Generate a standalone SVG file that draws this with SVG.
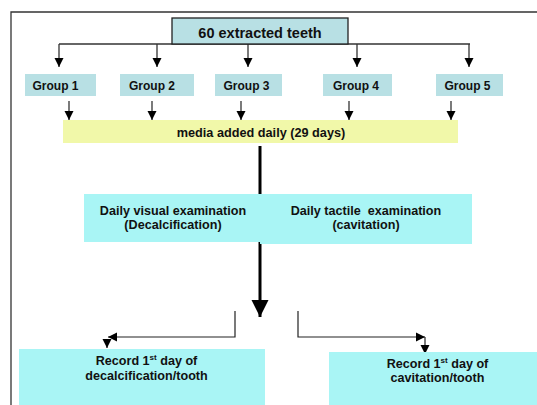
<svg xmlns="http://www.w3.org/2000/svg" width="537" height="405" viewBox="0 0 537 405">
<style>
text{font-family:"Liberation Sans",Arial,sans-serif;font-weight:bold;fill:#111;text-anchor:middle}
.grp{fill:#b8e0e4}
.exam{fill:#a9f5f5}
.ln{stroke:#333;stroke-width:1.3;fill:none}
.thin{stroke:#222;stroke-width:1.2;fill:none}
.sup{font-size:8px}
</style>
<defs>
<marker id="ah" markerUnits="userSpaceOnUse" markerWidth="10" markerHeight="10" refX="9" refY="5" orient="auto"><path d="M0,0.5 L9,5 L0,9.5 Z" fill="#000"/></marker>
<marker id="big" markerUnits="userSpaceOnUse" markerWidth="18" markerHeight="18" refX="17" refY="9" orient="auto"><path d="M0,0.5 L17,9 L0,17.5 Z" fill="#000"/></marker>
</defs>
<rect width="537" height="405" fill="#fff"/>
<path d="M11,405 V12 H537" stroke="#333" stroke-width="1.3" fill="none"/>

<g id="connectors">
<path class="ln" d="M59,44 H470"/>
<path class="ln" d="M59,44 V67" marker-end="url(#ah)"/>
<path class="ln" d="M157,44 V67" marker-end="url(#ah)"/>
<path class="ln" d="M248,44 V67" marker-end="url(#ah)"/>
<path class="ln" d="M357,44 V67" marker-end="url(#ah)"/>
<path class="ln" d="M469,44 V67" marker-end="url(#ah)"/>
<path class="ln" d="M69,101 V120" marker-end="url(#ah)"/>
<path class="ln" d="M152,101 V120" marker-end="url(#ah)"/>
<path class="ln" d="M241,101 V120" marker-end="url(#ah)"/>
<path class="ln" d="M349,101 V120" marker-end="url(#ah)"/>
<path class="ln" d="M451,101 V120" marker-end="url(#ah)"/>
<path d="M260,146 V195" stroke="#000" stroke-width="3"/>
<path d="M260,242 V317" stroke="#000" stroke-width="3" marker-end="url(#big)"/>
<path class="thin" d="M235,311 V337 H108" marker-end="url(#ah)"/>
<path class="thin" d="M107,339 V348" marker-end="url(#ah)"/>
<path class="thin" d="M298,311 V337 H425" marker-end="url(#ah)"/>
<path class="thin" d="M425,337 V354" marker-end="url(#ah)"/>
</g>

<g id="n-teeth"><rect x="172" y="18" width="176" height="26" class="grp" stroke="#222" stroke-width="1.3"/><text x="260" y="37.5" font-size="14.5">60 extracted teeth</text></g>
<g id="n-g1"><rect x="25" y="74" width="71" height="22" class="grp"/><text x="55.5" y="89.5" font-size="12">Group 1</text></g>
<g id="n-g2"><rect x="120" y="74" width="74" height="22" class="grp"/><text x="152" y="89.5" font-size="12">Group 2</text></g>
<g id="n-g3"><rect x="215" y="74" width="67" height="22" class="grp"/><text x="246.5" y="89.5" font-size="12">Group 3</text></g>
<g id="n-g4"><rect x="323" y="74" width="69" height="22" class="grp"/><text x="356" y="89.5" font-size="12">Group 4</text></g>
<g id="n-g5"><rect x="436" y="74" width="67" height="22" class="grp"/><text x="467.5" y="89.5" font-size="12">Group 5</text></g>
<g id="n-media"><rect x="63" y="120" width="395" height="23" fill="#f1f8a9"/><text x="261" y="136.5" font-size="12.7">media added daily (29 days)</text></g>
<g id="n-visual"><rect x="84" y="194" width="176" height="48" class="exam"/><text x="173" y="214.5" font-size="12.6">Daily visual examination</text><text x="173" y="228.5" font-size="12.6">(Decalcification)</text></g>
<g id="n-tactile"><rect x="260" y="194" width="212" height="50" class="exam"/><text x="366" y="214.5" font-size="12.6" xml:space="preserve">Daily tactile  examination</text><text x="366" y="228.5" font-size="12.6">(cavitation)</text></g>
<g id="n-rec-decal"><rect x="19" y="349" width="246" height="56" class="exam"/><text x="146.5" y="364.5" font-size="12.6">Record 1<tspan class="sup" dy="-5">st</tspan><tspan dy="5"> day of</tspan></text><text x="146.5" y="379.5" font-size="12.6">decalcification/tooth</text></g>
<g id="n-rec-cav"><rect x="329" y="352" width="208" height="53" class="exam"/><text x="437.5" y="367.5" font-size="12.6">Record 1<tspan class="sup" dy="-5">st</tspan><tspan dy="5"> day of</tspan></text><text x="437.5" y="382" font-size="12.6">cavitation/tooth</text></g>
</svg>
